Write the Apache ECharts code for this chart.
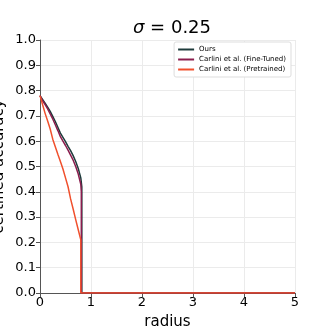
<!DOCTYPE html>
<html>
<head>
<meta charset="utf-8">
<script src="https://cdn.jsdelivr.net/npm/echarts@6/dist/echarts.min.js"></script>
<style>
  html, body { margin: 0; padding: 0; background: #fff; }
  #main { width: 329px; height: 329px; }
</style>
</head>
<body>
<div id="main"></div>
<script>
  // 数据
  const seriesNames = ['Ours', 'Carlini et al. (Fine-Tuned)', 'Carlini et al. (Pretrained)']
  const oursR = [0, 0.05, 0.1, 0.15, 0.2, 0.25, 0.3, 0.35, 0.4, 0.45, 0.5, 0.55, 0.6, 0.65, 0.7, 0.75, 0.8, 0.82, 0.82, 5]
  const oursAcc = [0.78, 0.765, 0.75, 0.735, 0.718, 0.698, 0.678, 0.655, 0.632, 0.615, 0.598, 0.58, 0.563, 0.543, 0.52, 0.492, 0.455, 0.42, 0, 0]
  const fineR = [0, 0.05, 0.1, 0.15, 0.2, 0.25, 0.3, 0.35, 0.4, 0.45, 0.5, 0.55, 0.6, 0.65, 0.7, 0.75, 0.8, 0.81, 0.81, 0.81, 5]
  const fineAcc = [0.78, 0.76, 0.745, 0.728, 0.708, 0.688, 0.665, 0.642, 0.618, 0.6, 0.583, 0.565, 0.545, 0.525, 0.5, 0.47, 0.43, 0.4, 0.21, 0, 0]
  const preR = [0, 0.05, 0.1, 0.15, 0.2, 0.25, 0.3, 0.35, 0.4, 0.45, 0.5, 0.55, 0.6, 0.65, 0.7, 0.75, 0.8, 0.8, 5]
  const preAcc = [0.78, 0.745, 0.71, 0.68, 0.648, 0.608, 0.578, 0.548, 0.52, 0.49, 0.455, 0.42, 0.372, 0.332, 0.29, 0.25, 0.21, 0, 0]
  const colors = ['#1e3b3b', '#8a1d4d', '#f0502d']

  const pairs = (xs, ys) => xs.map((x, i) => [x, ys[i]])

  const myChart = echarts.init(document.getElementById('main'))
  const axisText = { color: '#000', fontSize: 13, fontFamily: 'DejaVu Sans' }
  const option = {
    animation: false,
    title: {
      text: '{s|σ} = 0.25',
      left: 167, top: 14, textAlign: 'center',
      textStyle: {
        fontSize: 18, fontWeight: 'normal', color: '#000', fontFamily: 'DejaVu Sans',
        rich: { s: { fontSize: 18, fontStyle: 'italic', fontFamily: 'DejaVu Sans', color: '#000' } }
      }
    },
    legend: {
      data: seriesNames,
      right: 38, top: 42, orient: 'vertical',
      itemWidth: 16, itemHeight: 2, itemGap: 3,
      padding: [4, 5, 4, 4],
      backgroundColor: '#fff', borderColor: '#ddd', borderWidth: 1, borderRadius: 2,
      textStyle: { fontSize: 7, color: '#000', fontFamily: 'DejaVu Sans' },
      icon: 'rect'
    },
    grid: { left: 40, right: 34, top: 40, bottom: 36, outerBoundsMode: 'none', containLabel: false },
    xAxis: {
      type: 'value', min: 0, max: 5, interval: 1,
      name: 'radius', nameLocation: 'middle', nameGap: 22, nameMoveOverlap: false,
      nameTextStyle: { fontSize: 15, color: '#000', fontFamily: 'DejaVu Sans' },
      axisLine: { onZero: false, lineStyle: { color: '#555', width: 1 } },
      axisTick: { show: true, length: 4, lineStyle: { color: '#555' } },
      axisLabel: Object.assign({ margin: 3 }, axisText),
      splitLine: { show: true, lineStyle: { color: '#ebebeb', width: 1 } }
    },
    yAxis: {
      type: 'value', min: 0, max: 1, interval: 0.1,
      name: 'certified accuracy', nameLocation: 'middle', nameGap: 33, nameRotate: 90, nameMoveOverlap: false,
      nameTextStyle: { fontSize: 15, color: '#000', fontFamily: 'DejaVu Sans' },
      axisLine: { show: true, lineStyle: { color: '#555', width: 1 } },
      axisTick: { show: true, length: 4, lineStyle: { color: '#555' } },
      axisLabel: Object.assign({ margin: 4, formatter: v => v.toFixed(1) }, axisText),
      splitLine: { show: true, lineStyle: { color: '#ebebeb', width: 1 } }
    },
    series: [
      { name: seriesNames[0], type: 'line', data: pairs(oursR, oursAcc), color: colors[0], showSymbol: false, lineStyle: { width: 1.5 } },
      { name: seriesNames[1], type: 'line', data: pairs(fineR, fineAcc), color: colors[1], showSymbol: false, lineStyle: { width: 1.5 } },
      { name: seriesNames[2], type: 'line', data: pairs(preR, preAcc), color: colors[2], showSymbol: false, lineStyle: { width: 1.5 } }
    ]
  }
  option && myChart.setOption(option)
</script>
</body>
</html>
